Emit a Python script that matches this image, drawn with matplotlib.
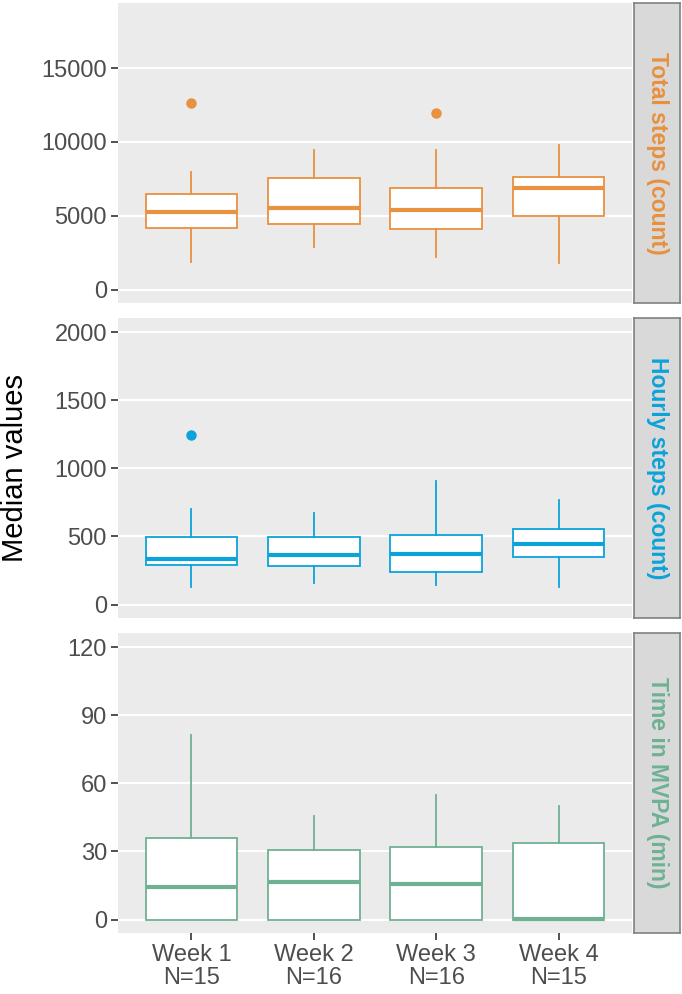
import matplotlib
matplotlib.use("Agg")
import matplotlib.pyplot as plt

plt.rcParams['font.family'] = ['Liberation Sans', 'DejaVu Sans']

weeks = ["Week 1\nN=15", "Week 2\nN=16", "Week 3\nN=16", "Week 4\nN=15"]

# box stats: whisker low, Q1, median, Q3, whisker high
steps_low = [1880, 2870, 2190, 1830]
steps_q1 = [4200, 4430, 4140, 5020]
steps_med = [5290, 5560, 5420, 6870]
steps_q3 = [6460, 7550, 6870, 7600]
steps_high = [7950, 9420, 9420, 9790]
steps_out = [[12610], [], [11980], []]

hourly_low = [130, 161, 144, 130]
hourly_q1 = [293, 281, 242, 350]
hourly_med = [337, 367, 372, 443]
hourly_q3 = [499, 499, 511, 555]
hourly_high = [702, 675, 905, 765]
hourly_out = [[1247], [], [], []]

mvpa_low = [0, 0, 0, 0]
mvpa_q1 = [0, 0, 0, 0]
mvpa_med = [14.2, 16.6, 15.6, 0.2]
mvpa_q3 = [36.1, 30.8, 32.0, 33.6]
mvpa_high = [81.4, 45.5, 54.9, 50.0]
mvpa_out = [[], [], [], []]

panels = [
    ("Total steps (count)", "#E8913F", (steps_low, steps_q1, steps_med, steps_q3, steps_high, steps_out),
     [0, 5000, 10000, 15000], (-900, 19400)),
    ("Hourly steps (count)", "#0BA3DA", (hourly_low, hourly_q1, hourly_med, hourly_q3, hourly_high, hourly_out),
     [0, 500, 1000, 1500, 2000], (-98, 2103)),
    ("Time in MVPA (min)", "#6FB193", (mvpa_low, mvpa_q1, mvpa_med, mvpa_q3, mvpa_high, mvpa_out),
     [0, 30, 60, 90, 120], (-5.9, 126.2)),
]

W, H = 682, 994
fig = plt.figure(figsize=(W / 100, H / 100), dpi=100)

left, right = 118, 632
tops = [3, 318, 633]
ph = 300

for i, (label, col, st, ticks, ylim) in enumerate(panels):
    top = tops[i]
    ax = fig.add_axes([left / W, 1 - (top + ph) / H, (right - left) / W, ph / H])
    ax.set_facecolor("#EBEBEB")
    lo, q1, med, q3, hi, out = st
    stats = []
    for k in range(4):
        stats.append(dict(whislo=lo[k], q1=q1[k], med=med[k], q3=q3[k], whishi=hi[k], fliers=out[k]))
    ax.bxp(stats, positions=[1, 2, 3, 4], widths=0.75, showcaps=False, patch_artist=True,
           boxprops=dict(facecolor="white", edgecolor=col, linewidth=1.3),
           medianprops=dict(color=col, linewidth=3.0, solid_capstyle="butt"),
           whiskerprops=dict(color=col, linewidth=1.3),
           flierprops=dict(marker="o", markerfacecolor=col, markeredgecolor=col, markersize=6.5),
           zorder=3)
    ax.set_xlim(0.4, 4.6)
    ax.set_ylim(*ylim)
    ax.set_yticks(ticks)
    ax.set_yticklabels([str(t) for t in ticks])
    ax.grid(axis="y", color="white", linewidth=1.5, zorder=0)
    ax.set_axisbelow(True)
    for s in ax.spines.values():
        s.set_visible(False)
    ax.tick_params(axis="y", length=5, width=1.2, color="#333333", labelcolor="#4D4D4D",
                   labelsize=17, pad=3)
    if i == 2:
        ax.set_xticks([1, 2, 3, 4])
        ax.set_xticklabels(weeks, linespacing=1.05)
        ax.tick_params(axis="x", length=5, width=1.2, color="#333333", labelcolor="#4D4D4D",
                       labelsize=17, pad=3)
    else:
        ax.set_xticks([])

    sax = fig.add_axes([634 / W, 1 - (top + ph) / H, 46 / W, ph / H])
    sax.set_facecolor("#D9D9D9")
    sax.set_xticks([])
    sax.set_yticks([])
    for s in sax.spines.values():
        s.set_color("#808080")
        s.set_linewidth(1.2)
    sax.text(0.5, 0.5, label, rotation=-90, ha="center", va="center", color=col,
             fontsize=16.5, fontweight="bold", transform=sax.transAxes)

fig.text(15 / W, 1 - 468 / H, "Median values", rotation=90, ha="center", va="center",
         fontsize=21, color="black")

fig.savefig("out.png", dpi=100)
